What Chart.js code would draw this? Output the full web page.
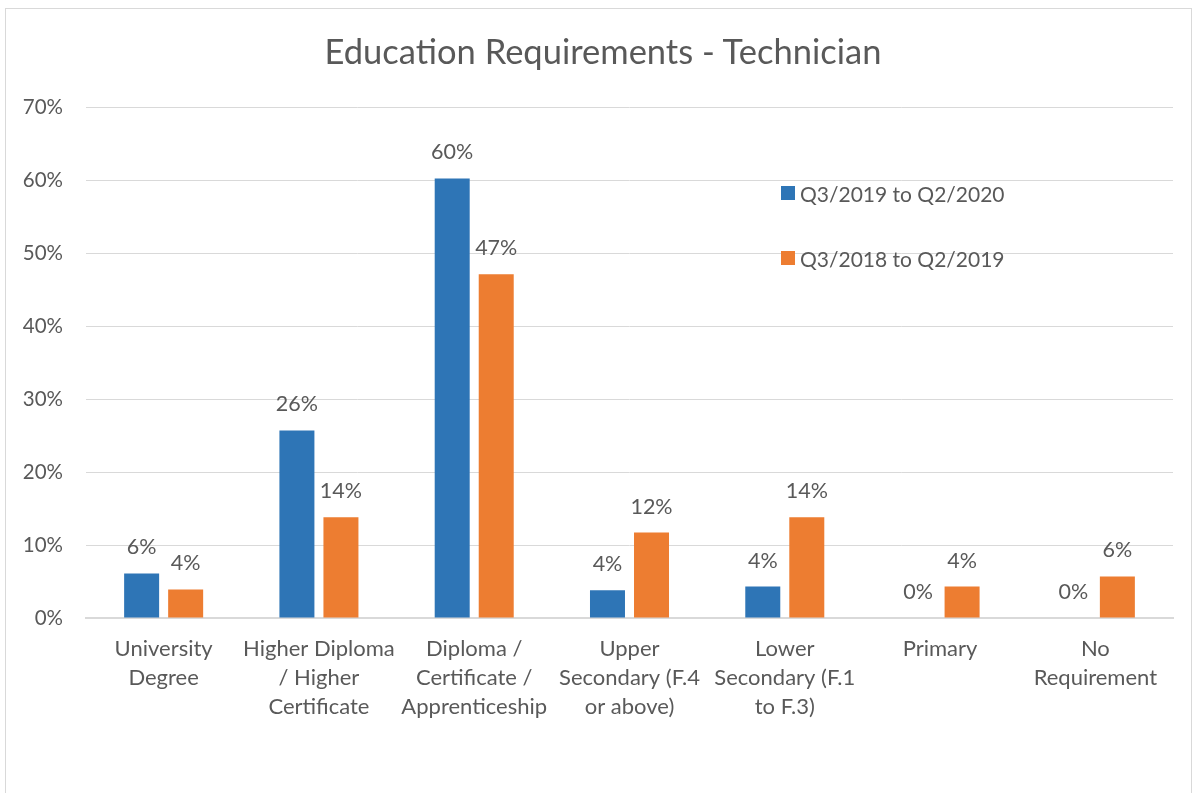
<!DOCTYPE html>
<html lang="en">
<head>
<meta charset="UTF-8">
<title>Education Requirements - Technician</title>
<script src="https://cdn.jsdelivr.net/npm/chart.js@4"></script>
<style>
    body { margin: 0; background: #fff; font-family: Lato, sans-serif; }
    #moldura { position: absolute; left: 5px; top: 8px; width: 1185px; height: 800px; border: 1px solid #d9d9d9; }
    #caixa { position: absolute; left: 0; top: 0; width: 1196px; height: 793px; }
    #titulo { position: absolute; left: 203px; width: 800px; top: 30px; text-align: center; white-space: nowrap;
              color: #595959; font-size: 34.5px; line-height: 42px; }
    #legenda { position: absolute; left: 781px; top: 180px; color: #595959; font-size: 21px; }
    .item { display: flex; align-items: center; height: 26px; margin-bottom: 39px; }
    .quadrado { width: 14px; height: 14px; margin-right: 5px; }
</style>
</head>
<body>
<div id="moldura"></div>
<div id="caixa"><canvas id="grafico"></canvas></div>
<div id="titulo">Education Requirements - Technician</div>
<div id="legenda"></div>

<script>
    var categorias = [
        ['University', 'Degree'],
        ['Higher Diploma', '/ Higher', 'Certificate'],
        ['Diploma /', 'Certificate /', 'Apprenticeship'],
        ['Upper', 'Secondary (F.4', 'or above)'],
        ['Lower', 'Secondary (F.1', 'to F.3)'],
        ['Primary'],
        ['No', 'Requirement']
    ]
    var serie1 = [6.1, 25.7, 60.2, 3.8, 4.3, 0, 0]
    var serie2 = [3.9, 13.8, 47.1, 11.7, 13.8, 4.3, 5.7]
    var nomes = ['Q3/2019 to Q2/2020', 'Q3/2018 to Q2/2019']
    var cores = ['#2e75b6', '#ed7d31']
    var ticksY = [0, 10, 20, 30, 40, 50, 60, 70]

    var cinza = '#595959'

    // escreve o valor em cima de cada barra
    const rotulos = {
        id: 'rotulos',
        afterDatasetsDraw(chart) {
            const ctx = chart.ctx
            ctx.save()
            ctx.font = '21.5px Lato'
            ctx.fillStyle = cinza
            ctx.textAlign = 'center'
            ctx.textBaseline = 'middle'
            chart.data.datasets.forEach((ds, i) => {
                chart.getDatasetMeta(i).data.forEach((barra, j) => {
                    ctx.fillText(Math.round(ds.data[j]) + '%', barra.x, barra.y - 26)
                })
            })
            ctx.restore()
        }
    }

    const grafico = new Chart(document.getElementById('grafico'), {
        type: 'bar',
        data: {
            labels: categorias,
            datasets: [
                { label: nomes[0], data: serie1, backgroundColor: cores[0] },
                { label: nomes[1], data: serie2, backgroundColor: cores[1] }
            ]
        },
        options: {
            responsive: true,
            maintainAspectRatio: false,
            animation: false,
            categoryPercentage: 0.567,
            barPercentage: 0.795,
            layout: { padding: { top: 107, right: 23, bottom: 0, left: 0 } },
            plugins: {
                legend: { display: false },
                tooltip: { enabled: false },
                title: { display: false }
            },
            scales: {
                x: {
                    grid: { display: false },
                    border: { color: '#d9d9d9', width: 2 },
                    ticks: {
                        color: cinza,
                        padding: 8,
                        maxRotation: 0,
                        autoSkip: false,
                        font: { family: 'Lato', size: 22, lineHeight: 1.32 }
                    },
                    afterFit(escala) { escala.height = 175 }
                },
                y: {
                    min: 0,
                    max: 70,
                    afterBuildTicks(escala) { escala.ticks = ticksY.map(v => ({ value: v })) },
                    grid: { color: '#d9d9d9', drawTicks: false },
                    border: { display: false },
                    ticks: {
                        color: cinza,
                        padding: 23,
                        font: { family: 'Lato', size: 20.5 },
                        callback: v => v + '%'
                    },
                    afterFit(escala) { escala.width = 86 }
                }
            }
        },
        plugins: [rotulos]
    })

    // legenda em html
    var legenda = document.getElementById('legenda')
    nomes.forEach((nome, i) => {
        legenda.innerHTML += `<div class="item"><div class="quadrado" style="background:${cores[i]}"></div>${nome}</div>`
    })
</script>
</body>
</html>
